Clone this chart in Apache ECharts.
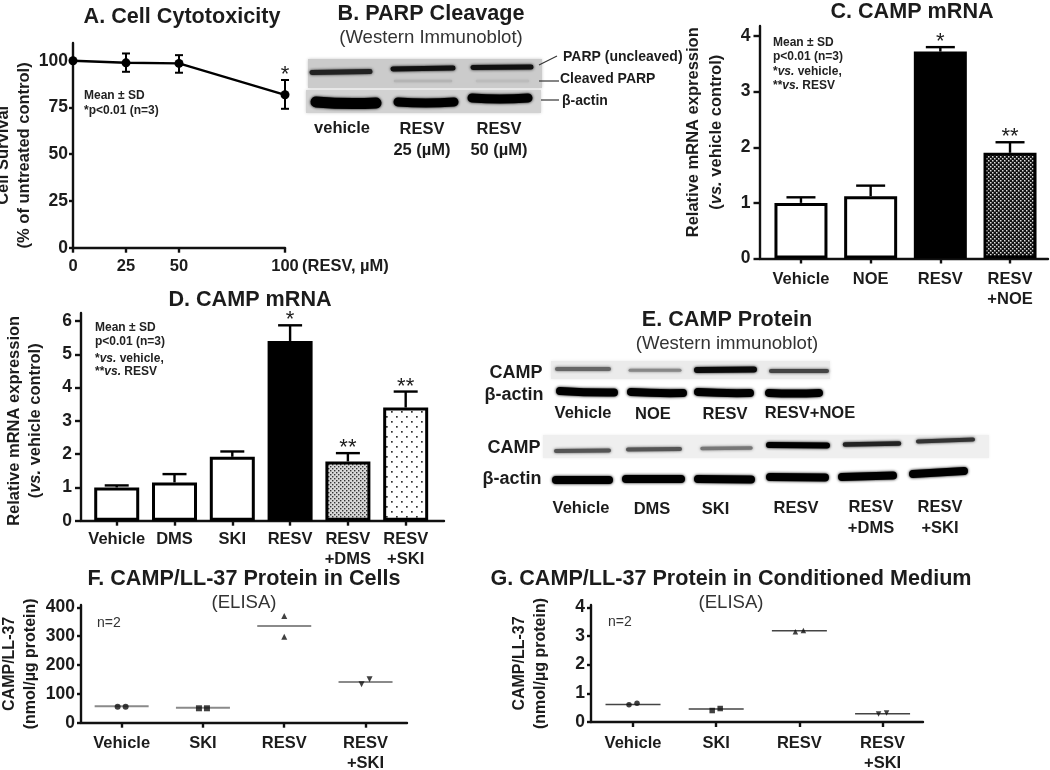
<!DOCTYPE html>
<html><head><meta charset="utf-8">
<style>html,body{margin:0;padding:0;background:#fff}#c{width:1050px;height:770px}</style>
<script src="https://cdn.jsdelivr.net/npm/echarts@6/dist/echarts.min.js"></script>
</head><body><div id="c"></div>
<script>
// ---- DATA ----
const aDoses = [0, 25, 50, 100];
const aSurvival = [100, 98.9, 98.6, 81.8];
const aUpper = [100, 103.9, 103, 89.7];
const aLower = [100, 94.1, 93.6, 74.3];
const aStars = ['', '', '', '*'];
const aYTicks = [0, 25, 50, 75, 100];

const cCategories = ['Vehicle', 'NOE', 'RESV', 'RESV\n+NOE'];
const cMeans = [1.0, 1.12, 3.72, 1.9];
const cUpper = [1.1, 1.31, 3.8, 2.09];
const cStars = ['', '', '*', '**'];
const cYTicks = [0, 1, 2, 3, 4];

const dCategories = ['Vehicle', 'DMS', 'SKI', 'RESV', 'RESV\n+DMS', 'RESV\n+SKI'];
const dMeans = [1.0, 1.15, 1.92, 5.4, 1.78, 3.4];
const dUpper = [1.06, 1.4, 2.08, 5.87, 2.03, 3.88];
const dStars = ['', '', '', '*', '**', '**'];
const dYTicks = [0, 1, 2, 3, 4, 5, 6];

const fCategories = ['Vehicle', 'SKI', 'RESV', 'RESV\n+SKI'];
const fRep1 = [55, 50, 298, 133];
const fRep2 = [55, 50, 370, 151];
const fMeans = [57, 52, 335, 141];
const fYTicks = [0, 100, 200, 300, 400];

const gCategories = ['Vehicle', 'SKI', 'RESV', 'RESV\n+SKI'];
const gRep1 = [0.6, 0.4, 3.15, 0.28];
const gRep2 = [0.65, 0.47, 3.19, 0.31];
const gMeans = [0.61, 0.45, 3.18, 0.29];
const gYTicks = [0, 1, 2, 3, 4];

// ---- STYLE ----
const FF = '"Liberation Sans", Arial, sans-serif';
const INK = '#1c1c1c';

function tile(size, draw) {
  const c = document.createElement('canvas');
  c.width = c.height = size;
  draw(c.getContext('2d'));
  return { image: c, repeat: 'repeat' };
}
const checkFill = tile(4, g => {
  g.fillStyle = '#111'; g.fillRect(0, 0, 4, 4);
  g.fillStyle = '#ddd'; g.fillRect(0, 0, 1.5, 1.5); g.fillRect(2, 2, 1.5, 1.5);
});
const denseFill = tile(4, g => {
  g.fillStyle = '#d8d8d8'; g.fillRect(0, 0, 4, 4);
  g.fillStyle = '#333'; g.fillRect(0, 0, 1.4, 1.4); g.fillRect(2, 2, 1.4, 1.4);
});
const sparseFill = tile(10, g => {
  g.fillStyle = '#fff'; g.fillRect(0, 0, 10, 10);
  g.fillStyle = '#333'; g.fillRect(1, 1, 1.7, 1.7); g.fillRect(6, 6, 1.7, 1.7);
});
const cFills = ['#fff', '#fff', '#000', checkFill];
const dFills = ['#fff', '#fff', '#fff', '#000', denseFill, sparseFill];

const grids = [], xAxes = [], yAxes = [], series = [], titles = [];

function axisBase(ticks, fmt, fontSize, margin, tickLen, lw) {
  return {
    axisLine: { show: true, onZero: false, lineStyle: { color: '#111', width: lw } },
    axisTick: { show: true, customValues: ticks, length: tickLen, lineStyle: { color: '#111', width: lw } },
    axisLabel: { show: true, customValues: ticks, formatter: fmt, color: INK, fontFamily: FF, fontWeight: 'bold', fontSize, margin, lineHeight: 20 },
    splitLine: { show: false }
  };
}
function addPanel(p) {
  const i = grids.length;
  grids.push({ left: p.l, top: p.t, width: p.r - p.l, height: p.b - p.t, outerBoundsMode: 'none' });
  xAxes.push(Object.assign({ type: 'value', gridIndex: i, min: p.xMin, max: p.xMax },
    axisBase(p.xTicks, p.xFmt, 16.5, p.xMargin, 5, 2.4)));
  yAxes.push(Object.assign({
    type: 'value', gridIndex: i, min: 0, max: p.yMax,
    name: p.yName, nameLocation: 'middle', nameGap: p.nameGap, nameRotate: 90,
    nameTextStyle: {
      color: INK, fontFamily: FF, fontWeight: 'bold', fontSize: p.nameSize, lineHeight: p.nameLH,
      padding: p.namePad, rich: { i: { fontStyle: 'italic', fontWeight: 'bold', fontFamily: FF, fontSize: p.nameSize, color: INK, lineHeight: p.nameLH } }
    }
  }, axisBase(p.yTicks, v => String(v), 17.5, p.yMargin, p.yTick || 5, 2.4)));
  return i;
}
function addBars(i, means, upper, stars, fills, barW, capW) {
  series.push({
    type: 'bar', xAxisIndex: i, yAxisIndex: i, barWidth: barW, z: 3,
    data: means.map((v, k) => ({
      value: [k, v],
      itemStyle: { color: fills[k], borderColor: '#000', borderWidth: 3 }
    }))
  });
  addErrors(i, means.map((v, k) => [k, v, upper[k], v]), stars, capW, 2.4);
}
function addErrors(i, rows, stars, capW, lw) {
  series.push({
    type: 'custom', xAxisIndex: i, yAxisIndex: i, z: 4, clip: false,
    encode: { x: 0, y: [1, 2, 3] },
    data: rows,
    renderItem(params, api) {
      const x = api.value(0);
      const top = api.coord([x, api.value(2)]);
      const bot = api.coord([x, api.value(3)]);
      const st = { stroke: '#000', lineWidth: lw, fill: null };
      const kids = [
        { type: 'line', shape: { x1: top[0], y1: top[1], x2: bot[0], y2: bot[1] }, style: st },
        { type: 'line', shape: { x1: top[0] - capW / 2, y1: top[1], x2: top[0] + capW / 2, y2: top[1] }, style: st }
      ];
      if (bot[1] - top[1] > 0 && api.value(3) !== api.value(1)) {
        kids.push({ type: 'line', shape: { x1: bot[0] - capW / 2, y1: bot[1], x2: bot[0] + capW / 2, y2: bot[1] }, style: st });
      }
      const s = stars[params.dataIndex];
      if (s) kids.push({
        type: 'text', x: top[0], y: top[1] - 5,
        style: { text: s, fontFamily: FF, fontSize: 22, fill: INK, textAlign: 'center', textVerticalAlign: 'middle' }
      });
      return { type: 'group', children: kids };
    }
  });
}
function addMeans(i, means, half, color, lw) {
  series.push({
    type: 'custom', xAxisIndex: i, yAxisIndex: i, z: 3,
    encode: { x: 0, y: 1 },
    data: means.map((v, k) => [k, v]),
    renderItem(params, api) {
      const c = api.coord([api.value(0), api.value(1)]);
      return { type: 'line', shape: { x1: c[0] - half, y1: c[1], x2: c[0] + half, y2: c[1] }, style: { stroke: color, lineWidth: lw } };
    }
  });
}
function addReps(i, rep1, rep2, symbols, rots, size, offs) {
  const data = [];
  rep1.forEach((v, k) => {
    const o = offs[k];
    data.push({ value: [k, v], symbol: symbols[k], symbolRotate: rots[k], symbolOffset: [-o, 0] });
    data.push({ value: [k, rep2[k]], symbol: symbols[k], symbolRotate: rots[k], symbolOffset: [o, 0] });
  });
  series.push({ type: 'scatter', xAxisIndex: i, yAxisIndex: i, z: 4, symbolSize: size, itemStyle: { color: '#111' }, data });
}

// ---- PANEL A ----
const A = addPanel({
  l: 73, r: 285, t: 43, b: 247.7, xMin: 0, xMax: 100, yMax: 109.5,
  xTicks: aDoses, xFmt: v => String(v), xMargin: 9, yTicks: aYTicks, yMargin: 5, yTick: 4,
  yName: 'Cell Survival\n(% of untreated control)', nameGap: 35, nameSize: 16.5, nameLH: 21, namePad: [0, 20, 0, 0]
});
series.push({
  type: 'line', xAxisIndex: A, yAxisIndex: A, z: 3, symbol: 'circle', symbolSize: 9,
  lineStyle: { color: '#000', width: 2.4 }, itemStyle: { color: '#000' },
  data: aDoses.map((d, k) => [d, aSurvival[k]])
});
addErrors(A, aDoses.map((d, k) => [d, aUpper[k], aUpper[k], aLower[k]]), aStars, 8, 2);

// ---- PANEL C ----
const C = addPanel({
  l: 759.5, r: 1048, t: 26, b: 258.5, xMin: -0.595, xMax: 3.545, yMax: 4.18,
  xTicks: [0, 1, 2, 3], xFmt: v => cCategories[v], xMargin: 11, yTicks: cYTicks, yMargin: 9, yTick: 6,
  yName: 'Relative mRNA expression\n({i|vs.} vehicle control)', nameGap: 32, nameSize: 16.5, nameLH: 23, namePad: [0, 0, 0, 20]
});
addBars(C, cMeans, cUpper, cStars, cFills, 53, 29);

// ---- PANEL D ----
const D = addPanel({
  l: 81, r: 444, t: 313, b: 520.7, xMin: -0.618, xMax: 5.663, yMax: 6.24,
  xTicks: [0, 1, 2, 3, 4, 5], xFmt: v => dCategories[v], xMargin: 9, yTicks: dYTicks, yMargin: 9, yTick: 6,
  yName: 'Relative mRNA expression\n({i|vs.} vehicle control)', nameGap: 35, nameSize: 16.5, nameLH: 21, namePad: [0, 8, 0, 0]
});
addBars(D, dMeans, dUpper, dStars, dFills, 45, 24);

// ---- PANEL F ----
const F = addPanel({
  l: 81, r: 407, t: 605, b: 722.7, xMin: -0.5, xMax: 3.51, yMax: 408,
  xTicks: [0, 1, 2, 3], xFmt: v => fCategories[v], xMargin: 11, yTicks: fYTicks, yMargin: 6, yTick: 4,
  yName: 'CAMP/LL-37\n(nmol/µg protein)', nameGap: 40, nameSize: 16, nameLH: 21, namePad: [0, 0, 0, 0]
});
addMeans(F, fMeans, 27, '#8a8a8a', 2);
addReps(F, fRep1, fRep2, ['circle', 'rect', 'triangle', 'triangle'], [0, 0, 0, 180], 6, [4, 4, 0, 4]);

// ---- PANEL G ----
const G = addPanel({
  l: 591, r: 923, t: 605, b: 722, xMin: -0.505, xMax: 3.486, yMax: 4.08,
  xTicks: [0, 1, 2, 3], xFmt: v => gCategories[v], xMargin: 11, yTicks: gYTicks, yMargin: 6, yTick: 4,
  yName: 'CAMP/LL-37\n(nmol/µg protein)', nameGap: 40, nameSize: 16, nameLH: 21, namePad: [0, 0, 0, 0]
});
addMeans(G, gMeans, 27.5, '#444', 1.5);
addReps(G, gRep1, gRep2, ['circle', 'rect', 'triangle', 'triangle'], [0, 0, 0, 180], 5.5, [4, 4, 4, 4]);

// ---- TITLES ----
function addTitle(x, y, text, sub) {
  titles.push({
    text, subtext: sub || '', left: x, top: y, textAlign: 'center', itemGap: 3, padding: 0,
    textStyle: { fontFamily: FF, fontWeight: 'bold', fontSize: 21.6, color: INK },
    subtextStyle: { fontFamily: FF, fontSize: 18.6, color: '#333' }
  });
}
addTitle(182, 6, 'A. Cell Cytotoxicity');
addTitle(431, 3, 'B. PARP Cleavage', '(Western Immunoblot)');
addTitle(912, 1, 'C. CAMP mRNA');
addTitle(250, 289, 'D. CAMP mRNA');
addTitle(727, 309, 'E. CAMP Protein', '(Western immunoblot)');
addTitle(244, 568, 'F. CAMP/LL-37 Protein in Cells', '(ELISA)');
addTitle(731, 568, 'G. CAMP/LL-37 Protein in Conditioned Medium', '(ELISA)');

// ---- BLOTS AND FREE TEXT ----
const gfx = [];
function bg(x, y, w, h, color) {
  gfx.push({ type: 'rect', silent: true, z: 1, shape: { x, y, width: w, height: h }, style: { fill: color, shadowBlur: 3, shadowColor: color } });
}
function band(x1, y1, x2, y2, w, color, bow) {
  const b = bow || 0;
  gfx.push({
    type: 'bezierCurve', silent: true, z: 2,
    shape: { x1, y1, x2, y2, cpx1: (x1 + x2) / 2, cpy1: (y1 + y2) / 2 + b },
    style: { stroke: color, fill: null, lineWidth: w, lineCap: 'round', shadowBlur: 3, shadowColor: color }
  });
}
function txt(x, y, text, o) {
  o = o || {};
  gfx.push({
    type: 'text', silent: true, z: 5, x, y,
    style: Object.assign({
      text, fontFamily: FF, fontSize: o.size || 16.5, fontWeight: o.weight || 'bold', fill: o.fill || INK,
      textAlign: o.align || 'center', textVerticalAlign: 'middle'
    }, o.rich ? { rich: o.rich } : {})
  });
}
function seg(x1, y1, x2, y2) {
  gfx.push({ type: 'line', silent: true, z: 2, shape: { x1, y1, x2, y2 }, style: { stroke: '#333', lineWidth: 1.2 } });
}
function note(x, ys, lines) {
  const rich = { i: { fontStyle: 'italic', fontWeight: 'bold', fontSize: 12, fontFamily: FF, fill: '#222' } };
  lines.forEach((l, k) => txt(x, ys[k], l, { size: 12, align: 'left', fill: '#222', rich }));
}
// panel notes
note(84, [96, 111], ['Mean ± SD', '*p<0.01 (n=3)']);
note(773, [43, 57, 72, 86], ['Mean ± SD', 'p<0.01 (n=3)', '*{i|vs.} vehicle,', '**{i|vs.} RESV']);
note(95, [328, 342, 359, 372], ['Mean ± SD', 'p<0.01 (n=3)', '*{i|vs.} vehicle,', '**{i|vs.} RESV']);
txt(97, 623, 'n=2', { size: 14, weight: 'normal', align: 'left', fill: '#333' });
txt(608, 622, 'n=2', { size: 14, weight: 'normal', align: 'left', fill: '#333' });
txt(302, 266, '(RESV, µM)', { align: 'left', size: 16.5 });

// blot B
bg(308, 59, 234, 29, '#cbcbcb');
bg(306, 90, 235, 23, '#d2d2d2');
band(312, 72.5, 370, 71.5, 5, '#222');
band(393, 69, 453, 68, 5, '#111');
band(473, 67.5, 531, 67, 5, '#111');
band(395, 81, 451, 81, 2.5, '#b4b4b4');
band(477, 81, 528, 81, 2.5, '#bcbcbc');
band(316, 102, 376, 103, 11, '#000', 2);
band(398, 102, 454, 102, 9, '#000', 2);
band(472, 98, 528, 98, 9, '#000', 2);
seg(539, 65, 557, 56);
seg(539, 81, 559, 81);
seg(541, 100, 559, 100);
txt(563, 57, 'PARP (uncleaved)', { align: 'left', size: 14 });
txt(560, 79, 'Cleaved PARP', { align: 'left', size: 14 });
txt(562, 101, 'β-actin', { align: 'left', size: 14 });
txt(342, 128, 'vehicle');
txt(422, 129, 'RESV'); txt(422, 150, '25 (µM)');
txt(499, 129, 'RESV'); txt(499, 150, '50 (µM)');

// blot E, upper
bg(551, 361, 279, 18, '#ebebeb');
band(557, 369, 609, 369, 4, '#666');
band(630, 370.3, 680, 370.3, 3, '#888');
band(697, 370, 754, 369.5, 6, '#0a0a0a');
band(771, 371, 827, 371, 4, '#444');
band(560, 391, 614, 392.5, 8, '#000', 1);
band(631, 392, 683, 393, 8, '#000', 1);
band(698, 392, 750, 393, 8, '#000', 1);
band(769, 393, 819, 393, 8, '#000', 1);
txt(516, 373, 'CAMP', { size: 18 });
txt(514, 395.5, 'β-actin', { size: 18 });
txt(583, 413, 'Vehicle'); txt(653, 414, 'NOE'); txt(725, 414, 'RESV'); txt(810, 413, 'RESV+NOE');

// blot E, lower
bg(543, 435, 446, 23, '#efefef');
band(556, 451, 609, 450.5, 4, '#555');
band(628, 449.5, 680, 449, 4, '#555');
band(702, 448.5, 751, 448, 3.5, '#777');
band(769, 445, 827, 445.5, 6, '#000');
band(845, 444.5, 899, 443.5, 4.5, '#222');
band(918, 441.5, 973, 439.5, 4, '#333');
band(556, 480, 609, 480, 8, '#000');
band(626, 479, 681, 479, 8, '#000');
band(698, 479, 751, 479.5, 8, '#000');
band(770, 477, 825, 477.5, 8, '#000');
band(842, 477, 893, 475.5, 8, '#000');
band(913, 474, 964, 471, 8, '#000');
txt(514, 448, 'CAMP', { size: 18 });
txt(512, 479, 'β-actin', { size: 18 });
txt(581, 508, 'Vehicle'); txt(652, 509, 'DMS'); txt(715.5, 509, 'SKI'); txt(796, 508, 'RESV');
txt(871, 507.5, 'RESV'); txt(871, 528, '+DMS');
txt(940, 507.5, 'RESV'); txt(940, 528, '+SKI');

const chart = echarts.init(document.getElementById('c'), null, { renderer: 'canvas' });
chart.setOption({
  animation: false,
  backgroundColor: '#fff',
  title: titles,
  tooltip: { show: false },
  grid: grids,
  xAxis: xAxes,
  yAxis: yAxes,
  series,
  graphic: { elements: gfx }
});
</script></body></html>
